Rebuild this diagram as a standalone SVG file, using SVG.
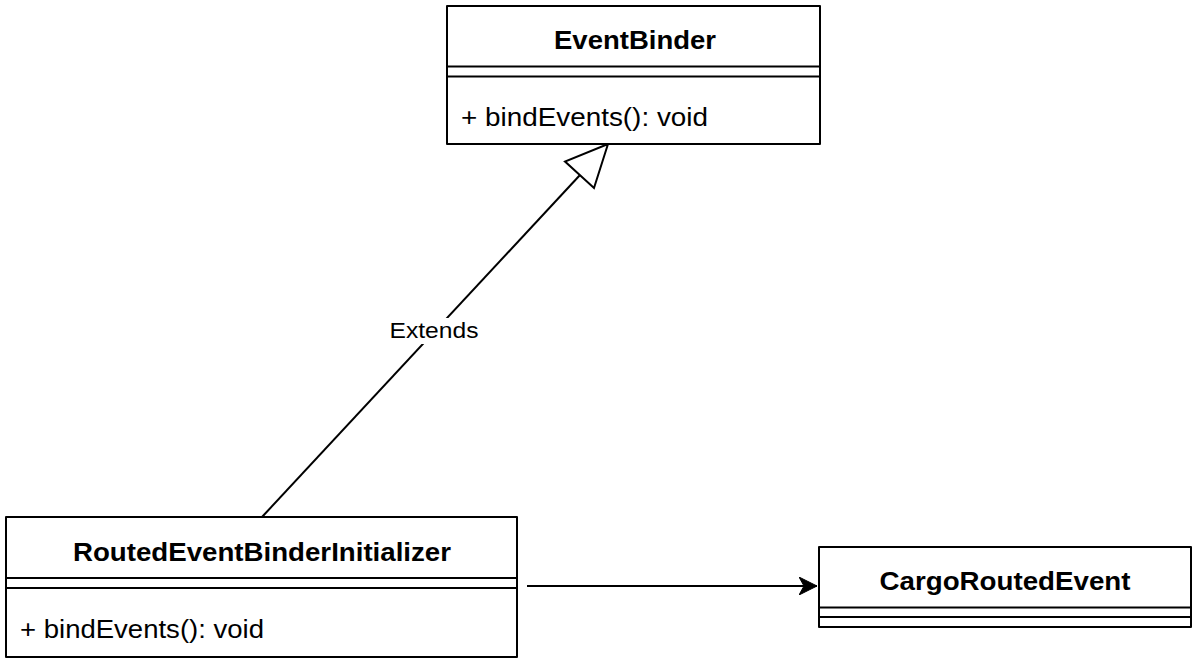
<svg xmlns="http://www.w3.org/2000/svg" width="1200" height="665" viewBox="0 0 1200 665">
<style>
.box{fill:#fff;stroke:#000;stroke-width:2;stroke-linejoin:round}
.sep{stroke:#000;stroke-width:2;fill:none}
.title{font-family:"Liberation Sans",Arial,Helvetica,sans-serif;font-size:25px;font-weight:bold;fill:#000}
.member{font-family:"Liberation Sans",Arial,Helvetica,sans-serif;font-size:25px;fill:#000}
.label{font-family:"Liberation Sans",Arial,Helvetica,sans-serif;font-size:22px;fill:#000}
.edge{stroke:#000;stroke-width:2;fill:none}
</style>
<defs>
<marker id="filled" viewBox="0 0 20 18" refX="18" refY="9" markerWidth="20" markerHeight="18" markerUnits="userSpaceOnUse" orient="auto">
<path d="M0,0 L18,9 L0,18 L5,9 Z" fill="#000" stroke="#000" stroke-width="1" stroke-linejoin="miter"/>
</marker>
</defs>
<rect width="1200" height="665" fill="#fff"/>
<g id="connectors">
<line class="edge" x1="262" y1="517" x2="580" y2="175"/>
<polygon points="608,144 594,188 565,161.5" fill="#fff" stroke="#000" stroke-width="2" stroke-linejoin="miter"/>
<rect x="386" y="318" width="98" height="26" fill="#fff"/>
<text class="label" x="434" y="338" text-anchor="middle" textLength="89" lengthAdjust="spacingAndGlyphs">Extends</text>
<line class="edge" x1="527" y1="586" x2="817" y2="586" marker-end="url(#filled)"/>
</g>
<g id="EventBinder">
<rect class="box" x="447" y="6" width="373" height="138"/>
<line class="sep" x1="447" y1="66.5" x2="820" y2="66.5"/>
<line class="sep" x1="447" y1="76.5" x2="820" y2="76.5"/>
<text class="title" x="635" y="49" text-anchor="middle" textLength="162" lengthAdjust="spacingAndGlyphs">EventBinder</text>
<text class="member" x="461" y="126" textLength="247" lengthAdjust="spacingAndGlyphs">+ bindEvents(): void</text>
</g>
<g id="RoutedEventBinderInitializer">
<rect class="box" x="6" y="517" width="511" height="140"/>
<line class="sep" x1="6" y1="578" x2="517" y2="578"/>
<line class="sep" x1="6" y1="588" x2="517" y2="588"/>
<text class="title" x="262" y="561" text-anchor="middle" textLength="378" lengthAdjust="spacingAndGlyphs">RoutedEventBinderInitializer</text>
<text class="member" x="20" y="638" textLength="244" lengthAdjust="spacingAndGlyphs">+ bindEvents(): void</text>
</g>
<g id="CargoRoutedEvent">
<rect class="box" x="819" y="547" width="372" height="80"/>
<line class="sep" x1="819" y1="607.5" x2="1191" y2="607.5"/>
<line class="sep" x1="819" y1="617" x2="1191" y2="617"/>
<text class="title" x="1005" y="590" text-anchor="middle" textLength="251" lengthAdjust="spacingAndGlyphs">CargoRoutedEvent</text>
</g>
</svg>
